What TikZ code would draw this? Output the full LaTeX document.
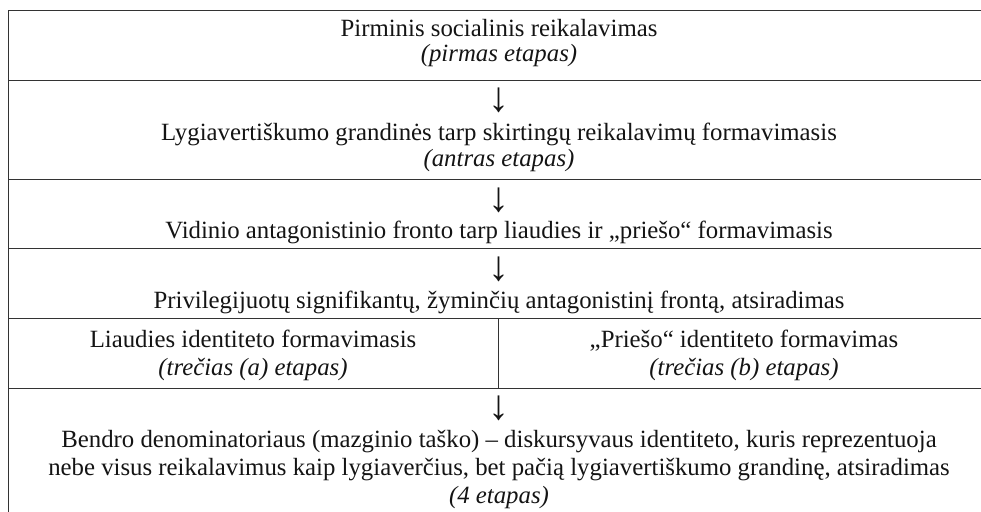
\documentclass[tikz,border=0pt]{standalone}
\usepackage{fontspec}
\setmainfont{Liberation Serif}
\begin{document}
\begin{tikzpicture}[x=1pt,y=-1pt,
  txt/.style={inner sep=0pt,anchor=base,font=\fontsize{24.8pt}{29pt}\selectfont,text=black!92},
  itx/.style={txt,font=\fontsize{24.8pt}{29pt}\selectfont\itshape},
  arr/.style={inner sep=0pt,anchor=center,font=\fontsize{42pt}{46pt}\selectfont,text=black!92},
  rule/.style={draw=black!80,line width=1pt}]
\useasboundingbox (0,0) rectangle (981,511);
% table rules
\coordinate (tl) at (8,11);
\coordinate (tr) at (995,11);
\coordinate (bl) at (8,520);
\draw[rule] (tl) -- (tr);
\draw[rule] (tl) -- (bl);
\foreach \yy/\nm in {80/a,179/b,248/c,318/d,388/e}{
  \coordinate (L\nm) at (8,\yy);
  \coordinate (R\nm) at (995,\yy);
  \draw[rule] (L\nm) -- (R\nm);
}
\coordinate (vt) at (498,318);
\coordinate (vb) at (498,388);
\draw[rule] (vt) -- (vb);
% row 1
\node[txt] (r1a) at (499,37) {Pirminis socialinis reikalavimas};
\node[itx] (r1b) at (499,62) {(pirmas etapas)};
% row 2
\node[arr] (ar2) at (499,100) {↓};
\node[txt] (r2a) at (499,140) {Lygiavertiškumo grandinės tarp skirtingų reikalavimų formavimasis};
\node[itx] (r2b) at (499,166) {(antras etapas)};
% row 3
\node[arr] (ar3) at (499,200) {↓};
\node[txt] (r3a) at (499,238) {Vidinio antagonistinio fronto tarp liaudies ir „priešo“ formavimasis};
% row 4
\node[arr] (ar4) at (499,269) {↓};
\node[txt] (r4a) at (499,308) {Privilegijuotų signifikantų, žyminčių antagonistinį frontą, atsiradimas};
% row 5
\node[txt] (r5a) at (253,347) {Liaudies identiteto formavimasis};
\node[itx] (r5b) at (253,375) {(trečias (a) etapas)};
\node[txt] (r5c) at (744,347) {„Priešo“ identiteto formavimas};
\node[itx] (r5d) at (744,375) {(trečias (b) etapas)};
% row 6
\node[arr] (ar6) at (499,408) {↓};
\node[txt] (r6a) at (499,447) {Bendro denominatoriaus (mazginio taško) – diskursyvaus identiteto, kuris reprezentuoja};
\node[txt] (r6b) at (499,475) {nebe visus reikalavimus kaip lygiaverčius, bet pačią lygiavertiškumo grandinę, atsiradimas};
\node[itx] (r6c) at (499,503) {(4 etapas)};
\end{tikzpicture}
\end{document}
